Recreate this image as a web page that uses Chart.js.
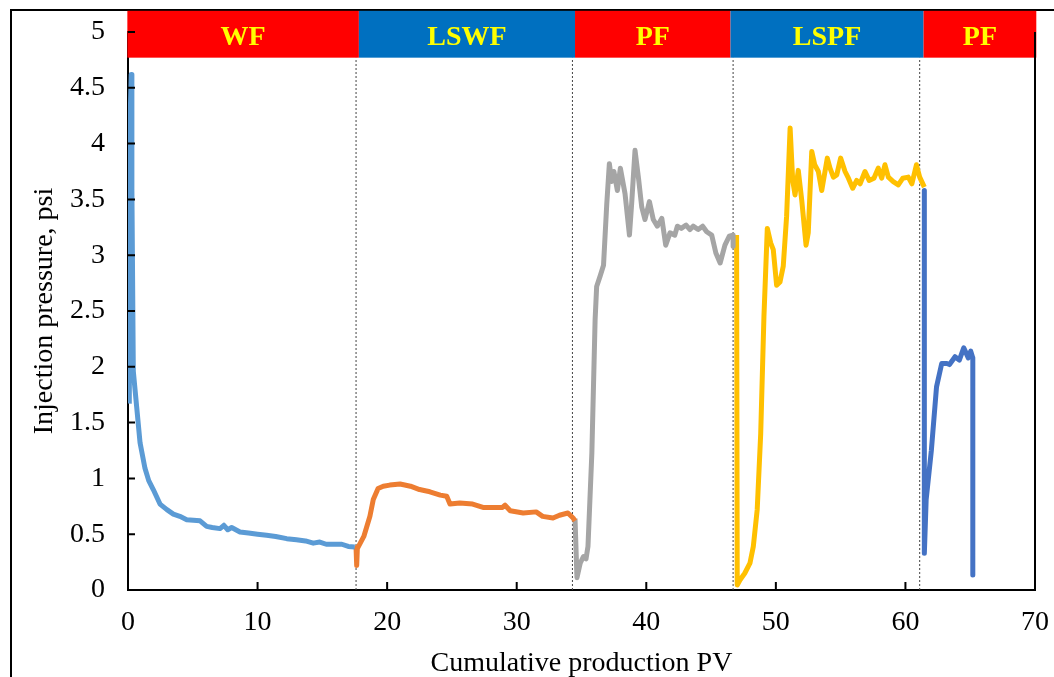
<!DOCTYPE html>
<html lang="en">
<head>
  <meta charset="UTF-8">
  <title>Injection pressure vs cumulative production</title>
  <script src="https://cdn.jsdelivr.net/npm/chart.js"></script>
  <style>
    body { margin: 0; overflow: hidden; background: #fff; }
    .frame { position: absolute; left: 10px; top: 9px; width: 2000px; height: 2000px;
             border-left: 2px solid #000; border-top: 2px solid #000; }
    .box { position: absolute; left: 0; top: 0; width: 1054px; height: 677px; }
  </style>
</head>
<body>
  <div class="frame"></div>
  <div class="box"><canvas id="grafico"></canvas></div>

  <script>
    // flood stages (x = cumulative production PV)
    const bandEdges = [-0.05, 17.82, 34.5, 46.5, 61.4, 70.1];
    const bandLabels = ["WF", "LSWF", "PF", "LSPF", "PF"];
    const dividers = [17.6, 34.3, 46.7, 61.1];

    const xTicks = [0, 10, 20, 30, 40, 50, 60, 70];
    const yTicks = [0, 0.5, 1, 1.5, 2, 2.5, 3, 3.5, 4, 4.5, 5];

    // WF
    const wfX = [0.1, 0.18, 0.25, 0.3, 0.41, 0.67, 0.93, 1.31, 1.6, 1.95, 2.47, 3.0, 3.5, 4.0, 4.53, 5.56, 6.07, 6.5, 7.1, 7.4, 7.7, 8.0, 8.64, 9.3, 10.0, 10.7, 11.4, 12.25, 13.0, 13.7, 14.3, 14.8, 15.3, 15.85, 16.5, 17.0, 17.5];
    const wfY = [1.67, 4.3, 4.62, 3.6, 1.96, 1.64, 1.32, 1.09, 0.98, 0.9, 0.77, 0.72, 0.68, 0.66, 0.63, 0.62, 0.57, 0.56, 0.55, 0.58, 0.54, 0.56, 0.52, 0.51, 0.5, 0.49, 0.48, 0.46, 0.45, 0.44, 0.42, 0.43, 0.41, 0.41, 0.41, 0.39, 0.385];

    // LSWF
    const lswfX = [17.6, 17.65, 17.7, 18.2, 18.67, 18.93, 19.3, 19.7, 20.2, 21.0, 21.8, 22.5, 23.3, 24.1, 24.6, 24.85, 25.6, 26.6, 27.4, 28.9, 29.1, 29.5, 30.5, 31.5, 32.0, 32.8, 33.3, 33.95, 34.35, 34.5];
    const lswfY = [0.38, 0.22, 0.37, 0.48, 0.66, 0.81, 0.91, 0.93, 0.94, 0.95, 0.93, 0.9, 0.88, 0.85, 0.84, 0.77, 0.78, 0.77, 0.74, 0.74, 0.76, 0.71, 0.69, 0.70, 0.66, 0.645, 0.67, 0.69, 0.645, 0.62];

    // PF
    const pfX = [34.5, 34.65, 34.9, 35.15, 35.35, 35.5, 35.8, 36.05, 36.17, 36.43, 36.7, 36.95, 37.15, 37.33, 37.5, 37.77, 38.0, 38.36, 38.7, 38.87, 39.13, 39.4, 39.65, 39.9, 40.24, 40.54, 40.85, 41.2, 41.5, 41.83, 42.2, 42.4, 42.7, 43.07, 43.37, 43.62, 44.0, 44.35, 44.66, 45.05, 45.37, 45.7, 46.07, 46.4, 46.7, 46.7];
    const pfY = [0.64, 0.11, 0.24, 0.30, 0.28, 0.39, 1.23, 2.42, 2.72, 2.81, 2.91, 3.46, 3.82, 3.66, 3.75, 3.58, 3.78, 3.55, 3.18, 3.46, 3.94, 3.69, 3.43, 3.32, 3.48, 3.32, 3.26, 3.33, 3.09, 3.20, 3.18, 3.26, 3.24, 3.27, 3.23, 3.26, 3.23, 3.26, 3.21, 3.18, 3.02, 2.93, 3.09, 3.17, 3.18, 3.08];

    // LSPF
    const lspfX = [46.97, 47.02, 47.23, 47.6, 48.0, 48.26, 48.56, 48.83, 49.08, 49.34, 49.6, 49.8, 50.06, 50.32, 50.57, 50.83, 51.1, 51.3, 51.48, 51.73, 52.0, 52.33, 52.5, 52.77, 53.0, 53.28, 53.54, 53.97, 54.18, 54.44, 54.7, 55.0, 55.34, 55.6, 55.93, 56.24, 56.5, 56.88, 57.2, 57.57, 57.9, 58.17, 58.42, 58.68, 59.06, 59.45, 59.8, 60.22, 60.5, 60.85, 61.1, 61.46];
    const lspfY = [3.18, 0.045, 0.09, 0.15, 0.24, 0.39, 0.72, 1.40, 2.45, 3.24, 3.11, 3.05, 2.73, 2.76, 2.90, 3.35, 4.14, 3.67, 3.54, 3.76, 3.49, 3.09, 3.20, 3.93, 3.81, 3.75, 3.58, 3.87, 3.78, 3.70, 3.72, 3.87, 3.75, 3.69, 3.60, 3.67, 3.64, 3.75, 3.67, 3.69, 3.78, 3.69, 3.81, 3.70, 3.66, 3.63, 3.69, 3.70, 3.64, 3.81, 3.70, 3.61];

    // PF (second)
    const pf2X = [61.46, 61.46, 61.6, 62.0, 62.4, 62.8, 63.2, 63.4, 63.83, 64.16, 64.5, 64.85, 65.04, 65.2, 65.2];
    const pf2Y = [3.58, 0.33, 0.81, 1.25, 1.82, 2.03, 2.03, 2.02, 2.09, 2.06, 2.17, 2.08, 2.14, 2.08, 0.135];

    const FONT = "'Liberation Serif', 'Times New Roman', serif";
    const bandColors = ["#FF0000", "#0070C0"];

    function pts(xs, ys) {
      return xs.map((x, i) => ({ x: x, y: ys[i] }));
    }

    function serie(label, xs, ys, cor) {
      return {
        label: label,
        data: pts(xs, ys),
        borderColor: cor,
        borderWidth: 5,
        pointRadius: 0,
        tension: 0,
        borderJoinStyle: "round",
        fill: false
      };
    }

    const datasets = [
      serie("WF", wfX, wfY, "#5B9BD5"),
      serie("LSWF", lswfX, lswfY, "#ED7D31"),
      serie("PF", pfX, pfY, "#A5A5A5"),
      serie("LSPF", lspfX, lspfY, "#FFC000"),
      serie("PF2", pf2X, pf2Y, "#4472C4")
    ];
    dividers.forEach(d => {
      datasets.push({
        label: "div",
        data: [{ x: d, y: 0 }, { x: d, y: 4.77 }],
        borderColor: "#444",
        borderWidth: 1,
        borderDash: [2, 2],
        pointRadius: 0
      });
    });

    // stage bands on top of the plot
    const faixas = {
      id: "faixas",
      afterDatasetsDraw(chart) {
        const ctx = chart.ctx;
        const xs = chart.scales.x, ys = chart.scales.y;
        const top = ys.getPixelForValue(5.19);
        const bot = ys.getPixelForValue(4.77);
        ctx.save();
        for (let i = 0; i < bandLabels.length; i++) {
          const x0 = xs.getPixelForValue(bandEdges[i]);
          const x1 = xs.getPixelForValue(bandEdges[i + 1]);
          ctx.fillStyle = bandColors[i % 2];
          ctx.fillRect(x0, top, x1 - x0, bot - top);
          ctx.fillStyle = "#FFFF00";
          ctx.font = "bold 28px " + FONT;
          ctx.textAlign = "center";
          ctx.textBaseline = "middle";
          ctx.fillText(bandLabels[i], (x0 + x1) / 2, (top + bot) / 2 + 4);
        }
        ctx.restore();
      }
    };

    // inner tick marks + right border
    const marcas = {
      id: "marcas",
      afterDraw(chart) {
        const ctx = chart.ctx;
        const a = chart.chartArea;
        const xs = chart.scales.x, ys = chart.scales.y;
        ctx.save();
        ctx.strokeStyle = "#000";
        ctx.lineWidth = 2;
        ctx.beginPath();
        yTicks.forEach(v => {
          const y = ys.getPixelForValue(v);
          ctx.moveTo(a.left, y);
          ctx.lineTo(a.left + 7, y);
        });
        xTicks.forEach(v => {
          const x = xs.getPixelForValue(v);
          ctx.moveTo(x, a.bottom);
          ctx.lineTo(x, a.bottom - 8);
        });
        ctx.moveTo(a.right, ys.getPixelForValue(5));
        ctx.lineTo(a.right, a.bottom);
        ctx.stroke();
        ctx.restore();
      }
    };

    const ctx = document.getElementById("grafico").getContext("2d");
    new Chart(ctx, {
      type: "line",
      data: { datasets: datasets },
      plugins: [faixas, marcas],
      options: {
        responsive: true,
        maintainAspectRatio: false,
        animation: false,
        layout: { padding: { top: 32, right: 19, left: 0, bottom: 0 } },
        plugins: { legend: { display: false }, tooltip: { enabled: false } },
        scales: {
          x: {
            type: "linear",
            min: 0,
            max: 70,
            afterFit: s => { s.height = 87; s.paddingLeft = 0; s.paddingRight = 0; },
            afterBuildTicks: s => { s.ticks = xTicks.map(v => ({ value: v })); },
            grid: { display: false, drawTicks: false },
            border: { display: true, color: "#000", width: 2 },
            ticks: { color: "#000", padding: 16, font: { family: FONT, size: 28 }, callback: v => String(v) },
            title: {
              display: true,
              text: "Cumulative production PV",
              color: "#000",
              font: { family: FONT, size: 28 },
              padding: { top: 0, bottom: -3 }
            }
          },
          y: {
            min: 0,
            max: 5,
            afterFit: s => { s.width = 128; s.paddingTop = 0; s.paddingBottom = 0; },
            afterBuildTicks: s => { s.ticks = yTicks.map(v => ({ value: v })); },
            grid: { display: false, drawTicks: false },
            border: { display: true, color: "#000", width: 2 },
            ticks: { color: "#000", padding: 23, font: { family: FONT, size: 28 }, callback: v => String(v) },
            title: {
              display: true,
              text: "Injection pressure, psi",
              color: "#000",
              font: { family: FONT, size: 28 },
              padding: { top: 28, bottom: 0 }
            }
          }
        }
      }
    });
  </script>
</body>
</html>
